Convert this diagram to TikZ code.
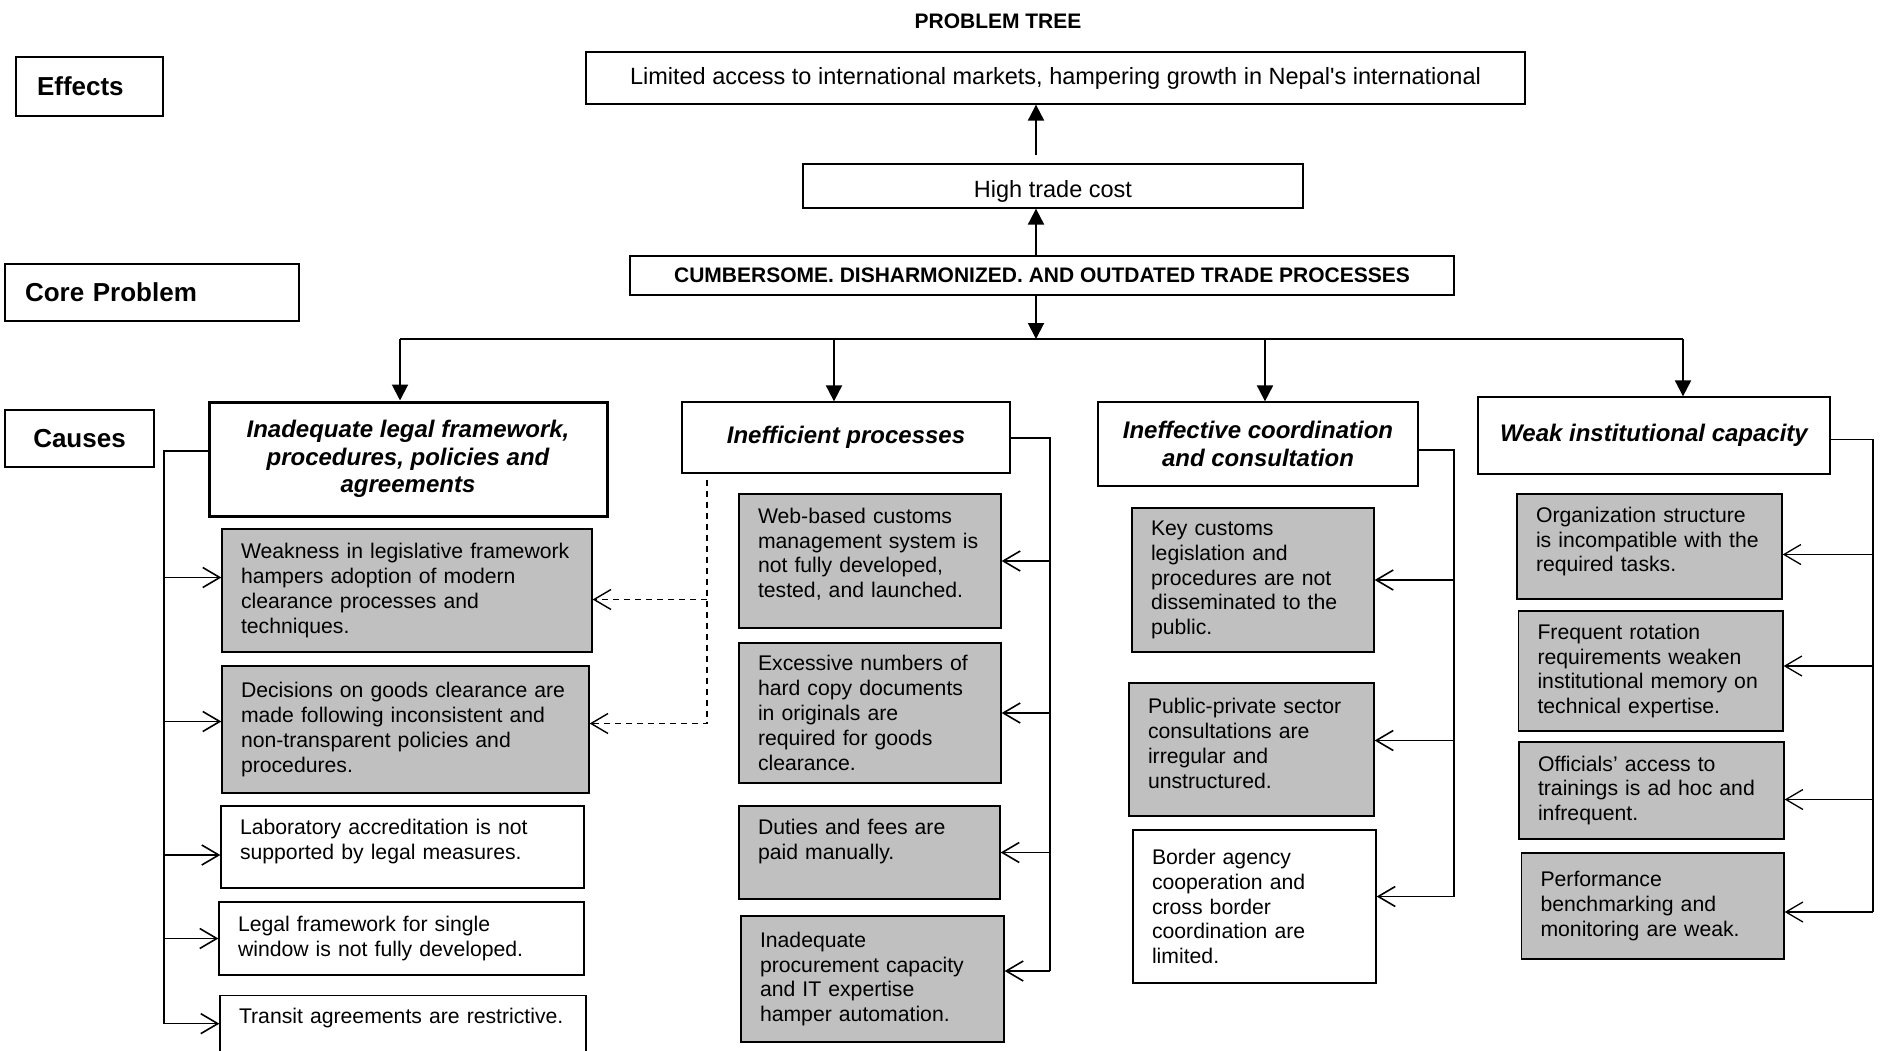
\documentclass[tikz,border=0pt]{standalone}
\usepackage{fontspec}
\setmainfont{Liberation Sans}
\usepackage{tikz}
\usetikzlibrary{arrows.meta}
\definecolor{boxgray}{RGB}{192,192,192}

\begin{document}
\begin{tikzpicture}[x=1pt, y=-1pt,
	tag/.style={shape=rectangle, draw, line width=1.3pt, inner xsep=21pt, font=\fontsize{26}{30}\selectfont\bfseries},
	top/.style={shape=rectangle, draw, line width=1.3pt, font=\fontsize{23.5}{27}\selectfont},
	head/.style={shape=rectangle, draw, line width=1.3pt, align=center, font=\fontsize{24}{27.3}\selectfont\bfseries\itshape},
	cause/.style={shape=rectangle, draw, line width=1.3pt, inner xsep=19pt, inner ysep=2pt, align=left, font=\fontsize{21.2}{24.9}\selectfont},
	shaded/.style={cause, fill=boxgray},
	lead/.style={line width=2pt, -{Triangle[length=16pt, width=16pt]}},
	spine/.style={line width=2pt},
	feed/.style={line width=1.6pt, -{Straight Barb[length=17pt, width=20pt]}},
	xlink/.style={line width=1.4pt, dash pattern=on 6pt off 5pt, -{Straight Barb[length=17pt, width=20pt]}}]
	\useasboundingbox (0,0) rectangle (1881,1051);
	% Nodes:
	\node[font=\fontsize{21}{25}\selectfont\bfseries](title) at (998, 21){PROBLEM TREE};
	\node[tag, align=left, text width=105pt, minimum height=59pt](effects) at (89.5, 86.5){Effects};
	\node[tag, align=left, inner xsep=20pt, text width=254pt, minimum height=57pt](core) at (152, 292.5){Core Problem};
	\node[tag, minimum width=149pt, minimum height=57pt](causes) at (79.5, 438.5){Causes};
	\node[top, minimum width=939pt, minimum height=52pt](effect) at (1055.5, 78){Limited access to international markets, hampering growth in Nepal{\textquotesingle}s international};
	\node[top, text height=24pt, text depth=0pt, minimum width=500pt, minimum height=44pt](cost) at (1053, 186){High trade cost};
	\node[top, minimum width=824pt, minimum height=39pt, font=\fontsize{21}{25}\selectfont\bfseries](problem) at (1042, 275.5){CUMBERSOME. DISHARMONIZED. AND OUTDATED TRADE PROCESSES};
	\node[head, line width=3pt, minimum width=398pt, minimum height=114pt](legal) at (408, 459){Inadequate legal framework,\\procedures, policies and\\agreements};
	\node[head, minimum width=328pt, minimum height=71pt](process) at (846, 437.5){Inefficient processes};
	\node[head, minimum width=320pt, minimum height=84pt](coord) at (1258, 444){Ineffective coordination\\and consultation};
	\node[head, minimum width=352pt, minimum height=77pt](capacity) at (1654, 435.5){Weak institutional capacity};
	\node[shaded, text width=332pt, minimum height=123pt](c1a) at (407, 590.5){Weakness in legislative framework\\hampers adoption of modern\\clearance processes and\\techniques.};
	\node[shaded, text width=329pt, minimum height=127pt](c1b) at (405.5, 729.5){Decisions on goods clearance are\\made following inconsistent and\\non-transparent policies and\\procedures.};
	\node[cause, text width=325pt, text depth=41pt, minimum height=82pt](c1c) at (402.5, 847){Laboratory accreditation is not\\supported by legal measures.};
	\node[cause, text width=327pt, minimum height=73pt](c1d) at (401.5, 938.5){Legal framework for single\\window is not fully developed.};
	\node[cause, text width=328pt, text height=20pt, text depth=40pt, inner ysep=8pt, anchor=north](c1e) at (403, 995){Transit agreements are restrictive.};
	\node[shaded, text width=224pt, text depth=91pt, minimum height=134pt](c2a) at (870, 561){Web-based customs\\management system is\\not fully developed,\\tested, and launched.};
	\node[shaded, text width=224pt, minimum height=140pt](c2b) at (870, 713){Excessive numbers of\\hard copy documents\\in originals are\\required for goods\\clearance.};
	\node[shaded, text width=223pt, text depth=51pt, minimum height=93pt](c2c) at (869.5, 852.5){Duties and fees are\\paid manually.};
	\node[shaded, text width=225pt, minimum height=126pt](c2d) at (872.5, 979){Inadequate\\procurement capacity\\and IT expertise\\hamper automation.};
	\node[shaded, text width=204pt, minimum height=144pt](c3a) at (1253, 580){Key customs\\legislation and\\procedures are not\\disseminated to the\\public.};
	\node[shaded, text width=207pt, text depth=87pt, minimum height=133pt](c3b) at (1251.5, 749.5){Public-private sector\\consultations are\\irregular and\\unstructured.};
	\node[cause, text width=205pt, minimum height=153pt](c3c) at (1254.5, 906.5){Border agency\\cooperation and\\cross border\\coordination are\\limited.};
	\node[shaded, text width=227pt, text depth=64pt, minimum height=105pt](c4a) at (1649.5, 546.5){Organization structure\\is incompatible with the\\required tasks.};
	\node[shaded, text width=226.5pt, minimum height=120pt](c4b) at (1650.75, 671){Frequent rotation\\requirements weaken\\institutional memory on\\technical expertise.};
	\node[shaded, text width=227pt, minimum height=97pt](c4c) at (1651.5, 790.5){Officials’ access to\\trainings is ad hoc and\\infrequent.};
	\node[shaded, text width=224.5pt, minimum height=106pt](c4d) at (1652.75, 906){Performance\\benchmarking and\\monitoring are weak.};
	% Junctions:
	\coordinate (trunk) at (1036, 339);
	\coordinate (d1) at (400, 339);
	\coordinate (d2) at (834, 339);
	\coordinate (d3) at (1265, 339);
	\coordinate (d4) at (1683, 339);
	\coordinate (s1) at (164, 0);
	\coordinate (s2) at (1050, 0);
	\coordinate (s3) at (1454, 0);
	\coordinate (s4) at (1873, 0);
	\coordinate (dash) at (707, 0);
	% Connectors:
	\draw[lead] ([yshift=8pt]cost.north -| trunk) -- (effect.south -| trunk);
	\draw[lead] ([yshift=-2pt]problem.north -| trunk) -- (cost.south -| trunk);
	\draw[lead] (problem.south -| trunk) -- (trunk);
	\draw[line width=2.5pt] (d1) -- (d4);
	\draw[lead] (d1) -- (legal.north -| d1);
	\draw[lead] (d2) -- (process.north -| d2);
	\draw[lead] (d3) -- (coord.north -| d3);
	\draw[lead] (d4) -- (capacity.north -| d4);
	\draw[spine] ([yshift=8pt]legal.west) -| (c1e.base west -| s1);
	\draw[feed] ([yshift=13pt]c1a.west -| s1) -- ([yshift=13pt]c1a.west);
	\draw[feed] ([yshift=8pt]c1b.west -| s1) -- ([yshift=8pt]c1b.west);
	\draw[feed] ([yshift=-8pt]c1c.west -| s1) -- ([yshift=-8pt]c1c.west);
	\draw[feed] (c1d.west -| s1) -- (c1d.west);
	\draw[feed] (c1e.base west -| s1) -- (c1e.base west);
	\draw[xlink] ([yshift=-6pt]process.south -| dash) |- ([yshift=6pt]c1b.east);
	\draw[xlink] ([yshift=-9pt]c1a.east -| dash) -- ([yshift=-9pt]c1a.east);
	\draw[spine] (process.east) -| ([yshift=8pt]c2d.east -| s2);
	\draw[feed] (c2a.east -| s2) -- (c2a.east);
	\draw[feed] (c2b.east -| s2) -- (c2b.east);
	\draw[feed] (c2c.east -| s2) -- (c2c.east);
	\draw[feed] ([yshift=8pt]c2d.east -| s2) -- ([yshift=8pt]c2d.east);
	\draw[spine] ([yshift=-6pt]coord.east) -| ([yshift=10pt]c3c.east -| s3);
	\draw[feed] (c3a.east -| s3) -- (c3a.east);
	\draw[feed] ([yshift=9pt]c3b.east -| s3) -- ([yshift=9pt]c3b.east);
	\draw[feed] ([yshift=10pt]c3c.east -| s3) -- ([yshift=10pt]c3c.east);
	\draw[spine, line width=1.4pt] ([yshift=-4pt]capacity.east) -| ([yshift=-6pt]c4d.east -| s4);
	\draw[feed, line width=1.3pt] ([yshift=-8pt]c4a.east -| s4) -- ([yshift=-8pt]c4a.east);
	\draw[feed, line width=1.3pt] ([yshift=5pt]c4b.east -| s4) -- ([yshift=5pt]c4b.east);
	\draw[feed, line width=1.3pt] ([yshift=-9pt]c4c.east -| s4) -- ([yshift=-9pt]c4c.east);
	\draw[feed, line width=1.3pt] ([yshift=-6pt]c4d.east -| s4) -- ([yshift=-6pt]c4d.east);
\end{tikzpicture}
\end{document}
